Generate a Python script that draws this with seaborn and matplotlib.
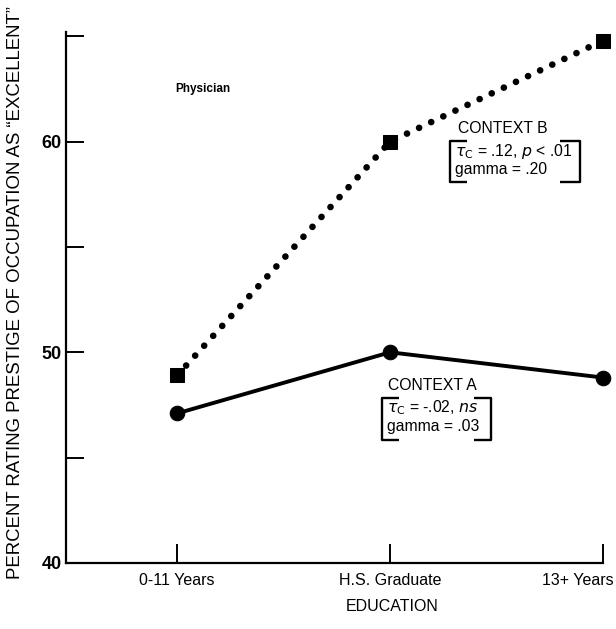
import matplotlib
matplotlib.use("Agg")
import matplotlib.pyplot as plt
import matplotlib.transforms as mtransforms
import seaborn as sns
import pandas as pd

# Education groups and percent rating the physician's prestige as "excellent"
education = ["0-11 Years", "H.S. Graduate", "13+ Years"]
context_a = [47.1, 50.0, 48.8]
context_b = [48.9, 60.0, 64.8]
y_ticks = [40, 45, 50, 55, 60, 65]
y_tick_labels = ["40", "", "50", "", "60", ""]

sns.set_theme(style="white")
plt.rcParams["font.family"] = ["Liberation Sans", "DejaVu Sans"]

fig = plt.figure(figsize=(6.16, 6.29), dpi=100)
ax = fig.add_axes([0.107, 0.105, 0.872, 0.844])

df = pd.DataFrame({"education": education, "A": context_a, "B": context_b})

sns.lineplot(data=df, x="education", y="A", ax=ax, color="black", linewidth=2.8,
             marker="o", markersize=10.5, markeredgecolor="black", clip_on=False, sort=False)
sns.lineplot(data=df, x="education", y="B", ax=ax, color="black", linewidth=4.8,
             marker="s", markersize=9.5, markeredgecolor="black", clip_on=False, sort=False)

line_b = ax.get_lines()[-1]
line_b.set_linestyle((0, (0.01, 2.0)))
line_b.set_dash_capstyle("round")

ax.set_xlim(-0.522, 2.0)
ax.set_ylim(40, 65.2)
ax.set_yticks(y_ticks)
ax.set_yticklabels(y_tick_labels, fontsize=13, fontweight="bold")
ax.set_xticks(range(len(education)))
ax.set_xticklabels(education, fontsize=11.5)

for side in ["top", "right"]:
    ax.spines[side].set_visible(False)
for side in ["left", "bottom"]:
    ax.spines[side].set_color("black")
    ax.spines[side].set_linewidth(1.6)

ax.tick_params(axis="y", direction="in", length=13, width=1.4, colors="black", pad=3, left=True)
ax.tick_params(axis="x", direction="in", length=14, width=1.4, colors="black", pad=7, bottom=True)

# keep the last category label inside the figure
last = ax.get_xticklabels()[-1]
last.set_transform(last.get_transform() +
                   mtransforms.ScaledTranslation(-0.25, 0, fig.dpi_scale_trans))

ax.set_xlabel("")
ax.set_ylabel("PERCENT RATING PRESTIGE OF OCCUPATION AS \u201cEXCELLENT\u201d",
              fontsize=13.4, color="black")
ax.yaxis.set_label_coords(-0.078, 0.51)

ax.text(1.01, 37.95, "EDUCATION", ha="center", va="center", fontsize=11.5,
        color="black", clip_on=False)

ax.text(0.12, 62.5, "Physician", ha="center", va="center", fontsize=8.5,
        fontweight="bold", color="black")


def bracket(x0, x1, y0, y1, arm_l, arm_r):
    kw = dict(color="black", lw=1.7, clip_on=False, solid_capstyle="butt")
    ax.plot([x0 + arm_l, x0, x0, x0 + arm_l], [y1, y1, y0, y0], **kw)
    ax.plot([x1 - arm_r, x1, x1, x1 - arm_r], [y1, y1, y0, y0], **kw)


# Context B annotation
ax.text(1.318, 60.6, "CONTEXT B", ha="left", va="center", fontsize=11.3, color="black")
ax.text(1.305, 59.55, r"$\tau_{\rm C}$ = .12, $p$ < .01", ha="left", va="center",
        fontsize=11.3, color="black")
ax.text(1.305, 58.7, "gamma = .20", ha="left", va="center", fontsize=11.3, color="black")
bracket(1.28, 1.89, 58.1, 60.05, 0.08, 0.09)

# Context A annotation
ax.text(0.99, 48.4, "CONTEXT A", ha="left", va="center", fontsize=11.3, color="black")
ax.text(0.985, 47.35, r"$\tau_{\rm C}$ = -.02, $ns$", ha="left", va="center",
        fontsize=11.3, color="black")
ax.text(0.985, 46.5, "gamma = .03", ha="left", va="center", fontsize=11.3, color="black")
bracket(0.96, 1.473, 45.83, 47.82, 0.08, 0.08)

fig.savefig("out.png", dpi=100, facecolor="white")
